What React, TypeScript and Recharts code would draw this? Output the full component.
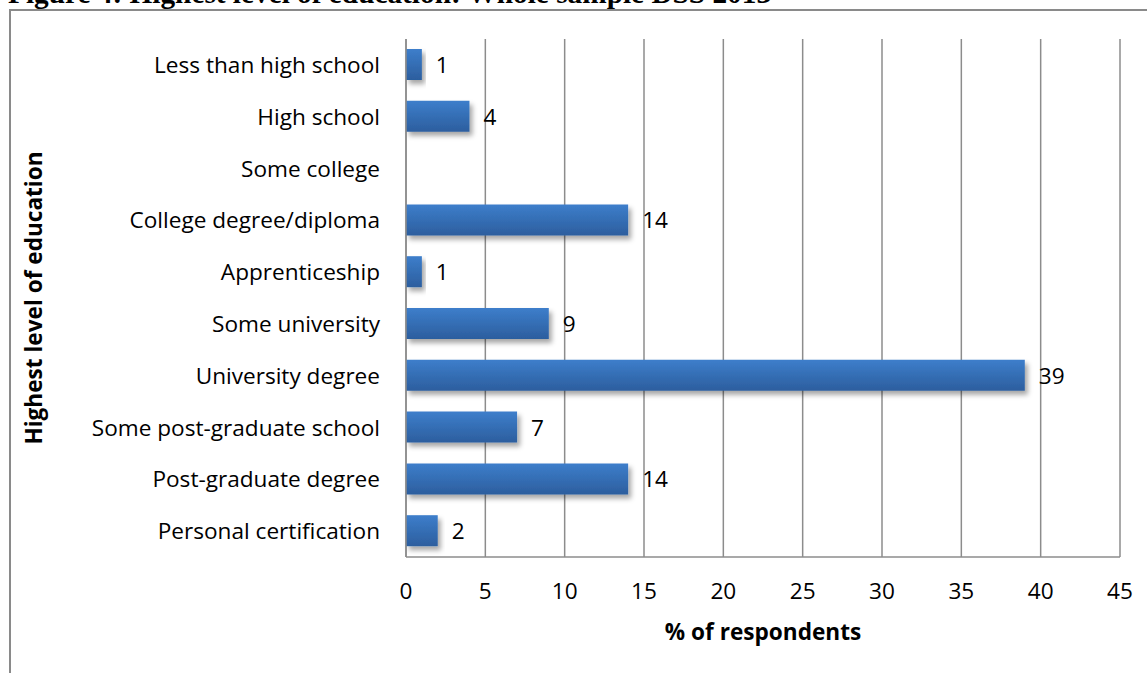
import React from 'react';
import { BarChart, Bar, XAxis, YAxis, CartesianGrid, LabelList, Label } from 'recharts';

const categories = [
  'Less than high school',
  'High school',
  'Some college',
  'College degree/diploma',
  'Apprenticeship',
  'Some university',
  'University degree',
  'Some post-graduate school',
  'Post-graduate degree',
  'Personal certification',
];
const percentValues = [1, 4, 0, 14, 1, 9, 39, 7, 14, 2];
const xTicks = [0, 5, 10, 15, 20, 25, 30, 35, 40, 45];

const titleText = 'Figure 4: Highest level of education: Whole sample DSS 2013';
const xTitle = '% of respondents';
const yTitle = 'Highest level of education';

const data = categories.map((name, i) => ({ name, value: percentValues[i] }));

const FONT = '"Open Sans", "Noto Sans", sans-serif';
const FS = 22.6;
const GRID = '#8c8c8c';

const renderValue = (props: any) => {
  const { x, y, width, height, value } = props;
  if (!value) return null;
  return (
    <text
      x={x + width + 14}
      y={y + height / 2}
      dominantBaseline="central"
      textAnchor="start"
      fontFamily={FONT}
      fontSize={FS}
      fill="#000"
    >
      {value}
    </text>
  );
};

export default function App() {
  return (
    <div style={{ position: 'absolute', left: 0, top: 0, width: 1147, height: 673, background: '#fff', overflow: 'hidden' }}>
      <svg width={0} height={0} style={{ position: 'absolute' }}>
        <defs>
          <linearGradient id="barFill" x1="0" y1="0" x2="0" y2="1">
            <stop offset="0%" stopColor="#3d7ecb" />
            <stop offset="100%" stopColor="#2c5e9e" />
          </linearGradient>
          <filter id="barShadow" x="-20%" y="-30%" width="140%" height="180%">
            <feDropShadow dx="3" dy="4" stdDeviation="2.5" floodColor="#000" floodOpacity="0.35" />
          </filter>
        </defs>
      </svg>
      <div
        style={{
          position: 'absolute',
          left: 8,
          top: -21,
          fontFamily: '"Liberation Serif", "Times New Roman", serif',
          fontWeight: 'bold',
          fontSize: 29.3,
          lineHeight: '29px',
          whiteSpace: 'nowrap',
          color: '#000',
        }}
      >
        {titleText}
      </div>
      <div
        style={{
          position: 'absolute',
          left: 9,
          top: 9,
          width: 1200,
          height: 700,
          borderLeft: '2px solid #8a8a8a',
          borderTop: '2px solid #8a8a8a',
          background: '#fff',
        }}
      />
      <div style={{ position: 'absolute', left: 0, top: 0 }}>
        <BarChart
          width={1147}
          height={673}
          data={data}
          layout="vertical"
          margin={{ top: 39, right: 27, bottom: 36, left: 0 }}
          barCategoryGap={0}
        >
          <CartesianGrid horizontal={false} vertical stroke={GRID} strokeWidth={1.5} />
          <XAxis
            type="number"
            domain={[0, 45]}
            ticks={xTicks}
            interval={0}
            tickLine={false}
            tickSize={0}
            tickMargin={26}
            axisLine={{ stroke: GRID, strokeWidth: 1.5 }}
            height={80}
            tick={{ fontFamily: FONT, fontSize: FS, fill: '#000' }}
          >
            <Label
              value={xTitle}
              position="insideBottom"
              offset={-3}
              style={{ fontFamily: FONT, fontSize: FS, fontWeight: 'bold', fill: '#000' }}
            />
          </XAxis>
          <YAxis
            type="category"
            dataKey="name"
            width={406}
            tickLine={false}
            tickSize={0}
            tickMargin={26}
            interval={0}
            axisLine={{ stroke: GRID, strokeWidth: 1.5 }}
            tick={{ fontFamily: FONT, fontSize: FS, fill: '#000' }}
          >
            <Label
              value={yTitle}
              angle={-90}
              position="insideLeft"
              offset={34}
              style={{ fontFamily: FONT, fontSize: FS, fontWeight: 'bold', fill: '#000', textAnchor: 'middle' }}
            />
          </YAxis>
          <Bar
            dataKey="value"
            barSize={31}
            fill="url(#barFill)"
            style={{ filter: 'url(#barShadow)' }}
            isAnimationActive={false}
          >
            <LabelList dataKey="value" content={renderValue} />
          </Bar>
        </BarChart>
      </div>
    </div>
  );
}
